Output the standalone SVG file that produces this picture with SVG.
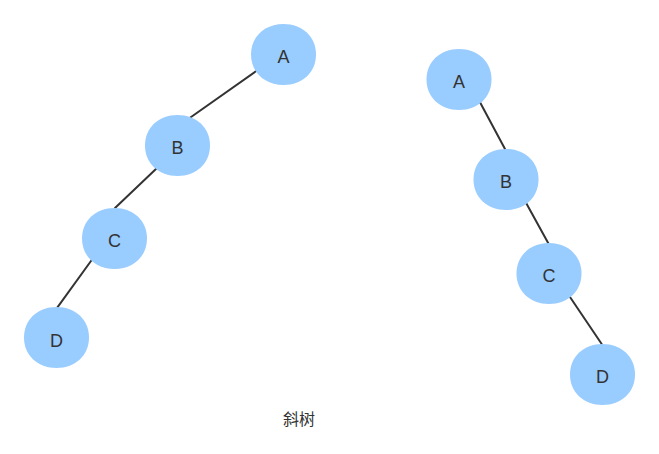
<svg xmlns="http://www.w3.org/2000/svg" width="659" height="454" viewBox="0 0 659 454">
<defs>
<path id="blob" d="M-32.5,0 C-32.5,-17.7 -18.9,-30.5 0,-30.5 C18.9,-30.5 32.5,-17.7 32.5,0 C32.5,17.7 18.9,30.5 0,30.5 C-18.9,30.5 -32.5,17.7 -32.5,0Z"/>
</defs>
<style>
.n use{fill:#99CCFF;}
.n text{font-family:"Liberation Sans",Arial,sans-serif;font-size:18px;fill:#333333;text-anchor:middle;}
.e line{stroke:#333333;stroke-width:2;stroke-linecap:round;}
.cap{font-family:"Noto Sans CJK SC","Liberation Sans",sans-serif;font-size:16px;fill:#333333;text-anchor:middle;}
</style>
<rect width="659" height="454" fill="#ffffff"/>
<g id="connectors" class="e">
<line x1="256.7" y1="70.7" x2="189.3" y2="118.3"/>
<line x1="157" y1="168" x2="115" y2="208"/>
<line x1="91.7" y1="260" x2="56.7" y2="308.3"/>
<line x1="480" y1="102.3" x2="505" y2="149"/>
<line x1="526" y1="202.7" x2="548.3" y2="243.3"/>
<line x1="569.3" y1="296" x2="601.7" y2="344"/>
</g>
<g id="L_A" class="n"><use href="#blob" x="283.5" y="54.5"/><text x="283.5" y="63.3">A</text></g>
<g id="L_B" class="n"><use href="#blob" x="177.5" y="145.5"/><text x="177.5" y="154">B</text></g>
<g id="L_C" class="n"><use href="#blob" x="114.5" y="238.5"/><text x="114.5" y="247">C</text></g>
<g id="L_D" class="n"><use href="#blob" x="56.5" y="337.5"/><text x="56.5" y="346.5">D</text></g>
<g id="R_A" class="n"><use href="#blob" x="459" y="79.5"/><text x="459" y="88">A</text></g>
<g id="R_B" class="n"><use href="#blob" x="506" y="179.5"/><text x="506" y="188">B</text></g>
<g id="R_C" class="n"><use href="#blob" x="549" y="273.5"/><text x="549" y="282">C</text></g>
<g id="R_D" class="n"><use href="#blob" x="602.5" y="374.5"/><text x="602.5" y="383">D</text></g>
<text class="cap" x="299" y="425">斜树</text>
</svg>
